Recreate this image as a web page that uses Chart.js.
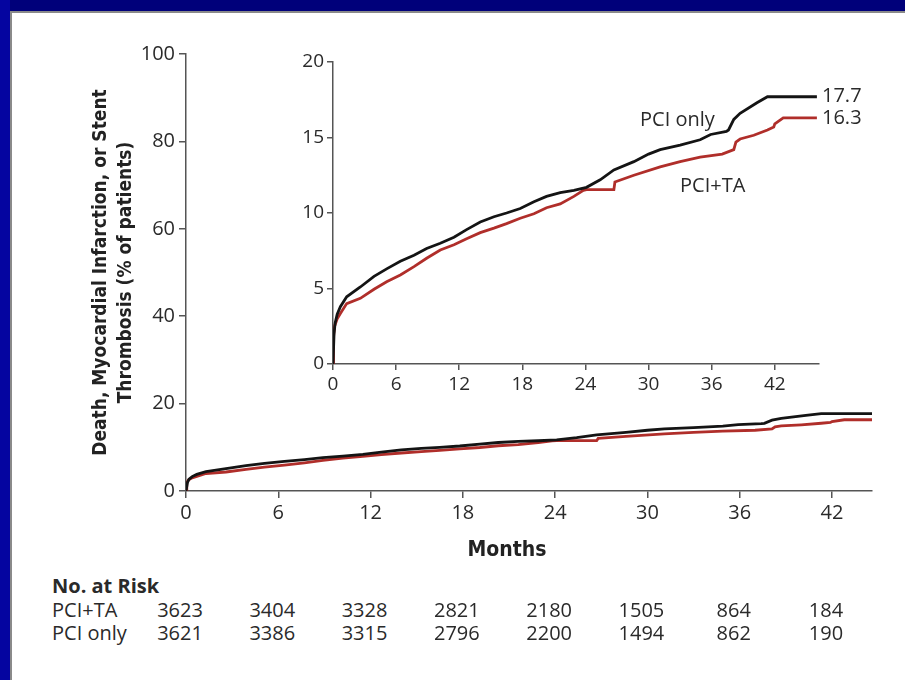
<!DOCTYPE html>
<html lang="en">
<head>
<meta charset="UTF-8">
<title>Death, MI or Stent Thrombosis</title>
<script src="https://cdn.jsdelivr.net/npm/chart.js"></script>
<style>
    body { margin: 0; width: 905px; height: 680px; background: #00007a; position: relative; overflow: hidden; font-family: 'Open Sans', sans-serif; color: #2a2a2a; }
    #leftStrip { position: absolute; left: 0; top: 0; width: 10px; height: 680px; background: #0505a0; }
    #panel { position: absolute; left: 10px; top: 11px; width: 895px; height: 669px; background: #fff; border-left: 2px solid #8a8a8a; border-top: 2px solid #8a8a8a; box-sizing: border-box; }
    #mainChart { position: absolute; left: 0; top: 0; }
    #insetChart { position: absolute; left: 280px; top: 40px; }
    .lbl { position: absolute; font-size: 20px; line-height: 24px; white-space: nowrap; }
    .num { position: absolute; font-size: 20px; line-height: 24px; white-space: nowrap; transform: translateX(-50%); }
    #xTitle { position: absolute; left: 507px; top: 536px; transform: translateX(-50%); font-family: 'Liberation Sans Narrow', 'DejaVu Sans Condensed', Roboto, sans-serif; font-weight: bold; font-size: 21px; line-height: 26px; color: #222; }
</style>
</head>
<body>
    <div id="leftStrip"></div>
    <div id="panel"></div>
    <canvas id="mainChart" width="905" height="565"></canvas>
    <canvas id="insetChart" width="600" height="354"></canvas>

    <div id="xTitle">Months</div>

    <!-- curve labels in the inset -->
    <div class="lbl" style="left:640px; top:107px;">PCI only</div>
    <div class="lbl" style="left:680px; top:173px;">PCI+TA</div>

    <!-- number at risk table -->
    <div class="lbl" style="left:52px; top:574px; font-weight:bold;">No. at Risk</div>
    <div class="lbl" style="left:52px; top:598px;">PCI+TA</div>
    <div class="lbl" style="left:52px; top:621px;">PCI only</div>
    <div id="riskCells"></div>

<script>
    // Kaplan-Meier curves (months, cumulative %)
    const pciOnlyMonths = [0, 0.1, 0.2, 0.4, 0.7, 1.3, 2.6, 3.9, 5.1, 6.4, 7.7, 8.9, 10.2, 11.5, 12.7, 14.0, 15.3, 16.5, 17.8, 19.1, 20.3, 21.6, 22.9, 24.1, 25.4, 26.7, 28.6, 30.0, 31.1, 33.0, 34.9, 35.9, 37.4, 37.6, 38.1, 38.7, 40.3, 41.3, 46];
    const pciOnlyPct    = [0, 2.0, 2.7, 3.3, 3.8, 4.45, 5.1, 5.8, 6.3, 6.8, 7.2, 7.65, 8.0, 8.4, 8.9, 9.4, 9.75, 10.0, 10.3, 10.75, 11.1, 11.35, 11.5, 11.7, 12.2, 12.85, 13.4, 13.9, 14.2, 14.5, 14.85, 15.2, 15.4, 15.5, 16.2, 16.6, 17.3, 17.7, 17.7];

    const pciTaMonths = [0, 0.05, 0.15, 0.4, 0.7, 1.3, 2.6, 3.9, 5.1, 6.4, 7.7, 8.9, 10.2, 11.5, 12.7, 14.0, 15.3, 16.5, 17.8, 19.1, 20.3, 21.6, 22.9, 23.8, 24.1, 26.7, 26.8, 28.6, 31.1, 33.0, 34.9, 37.0, 38.1, 38.3, 38.7, 40.0, 41.3, 41.9, 42.0, 42.8, 46];
    const pciTaPct    = [0, 1.8, 2.5, 3.0, 3.35, 4.0, 4.35, 4.95, 5.45, 5.9, 6.45, 7.0, 7.55, 7.9, 8.3, 8.7, 9.0, 9.3, 9.65, 9.95, 10.35, 10.6, 11.1, 11.5, 11.55, 11.55, 12.05, 12.5, 13.05, 13.4, 13.7, 13.9, 14.2, 14.7, 14.9, 15.15, 15.5, 15.7, 15.9, 16.3, 16.3];

    // number at risk
    const riskMonths  = [0, 6, 12, 18, 24, 30, 36, 42];
    const riskPciTa   = [3623, 3404, 3328, 2821, 2180, 1505, 864, 184];
    const riskPciOnly = [3621, 3386, 3315, 2796, 2200, 1494, 862, 190];

    const FONT = "'Open Sans', 'DejaVu Sans', sans-serif";
    const FONT_COND = "'Liberation Sans Narrow', 'DejaVu Sans Condensed', Roboto, sans-serif";
    const AXIS = '#555';
    const BLACK = '#141414';
    const RED = '#b02e2a';

    function toPoints(xs, ys) {
        return xs.map((x, i) => ({ x: x, y: ys[i] }));
    }

    function makeDatasets() {
        return [
            { label: 'PCI only', data: toPoints(pciOnlyMonths, pciOnlyPct), borderColor: BLACK, borderWidth: 2.8, pointRadius: 0, tension: 0 },
            { label: 'PCI+TA', data: toPoints(pciTaMonths, pciTaPct), borderColor: RED, borderWidth: 2.8, pointRadius: 0, tension: 0 }
        ];
    }

    function axisStyle(fontSize) {
        return {
            border: { color: AXIS, width: 1.5 },
            grid: { drawOnChartArea: false, tickLength: 7, color: AXIS, lineWidth: 1.5 },
            ticks: { color: '#2a2a2a', font: { size: fontSize, family: FONT }, maxRotation: 0 }
        };
    }

    Chart.defaults.font.family = FONT;

    // Main chart (0-100 %)
    const mainX = axisStyle(20);
    const mainY = axisStyle(20);
    const mainChart = new Chart(document.getElementById('mainChart'), {
        type: 'line',
        data: { datasets: makeDatasets() },
        options: {
            responsive: false,
            animation: false,
            layout: { padding: { left: 0, top: 54, right: 33, bottom: 4 } },
            plugins: { legend: { display: false }, tooltip: { enabled: false } },
            scales: {
                x: Object.assign(mainX, {
                    type: 'linear', min: 0, max: 44.6,
                    ticks: Object.assign(mainX.ticks, { stepSize: 6, includeBounds: false, padding: 3 }),
                    afterFit: s => { s.height = 70; }
                }),
                y: Object.assign(mainY, {
                    min: 0, max: 100,
                    ticks: Object.assign(mainY.ticks, { stepSize: 20, padding: 4 }),
                    title: {
                        display: true,
                        text: ['Death, Myocardial Infarction, or Stent', 'Thrombosis (% of patients)'],
                        color: '#222',
                        padding: { top: 89 },
                        font: { size: 19, weight: 'bold', family: FONT_COND, lineHeight: 1.3 }
                    },
                    afterFit: s => { s.width = 186; }
                })
            }
        }
    });

    // end-of-curve values in the inset
    const endLabels = {
        id: 'endLabels',
        afterDatasetsDraw(chart) {
            const { ctx, chartArea, scales } = chart;
            ctx.save();
            ctx.font = '20px ' + FONT;
            ctx.fillStyle = '#2a2a2a';
            ctx.textBaseline = 'middle';
            chart.data.datasets.forEach(ds => {
                const last = ds.data[ds.data.length - 1];
                ctx.fillText(last.y.toFixed(1), chartArea.right + 3, scales.y.getPixelForValue(last.y));
            });
            ctx.restore();
        }
    };

    // Inset (0-20 %)
    const inX = axisStyle(19);
    const inY = axisStyle(19);
    new Chart(document.getElementById('insetChart'), {
        type: 'line',
        data: { datasets: makeDatasets() },
        plugins: [endLabels],
        options: {
            responsive: false,
            animation: false,
            layout: { padding: { left: 0, top: 22, right: 61, bottom: 0 } },
            plugins: { legend: { display: false }, tooltip: { enabled: false } },
            scales: {
                x: Object.assign(inX, {
                    type: 'linear', min: 0, max: 46.2,
                    grid: Object.assign(inX.grid, { tickLength: 6 }),
                    ticks: Object.assign(inX.ticks, { stepSize: 6, includeBounds: false, padding: 3 }),
                    afterFit: s => { s.height = 30; }
                }),
                y: Object.assign(inY, {
                    min: 0, max: 20,
                    grid: Object.assign(inY.grid, { tickLength: 6 }),
                    ticks: Object.assign(inY.ticks, { stepSize: 5, padding: 3 }),
                    afterFit: s => { s.width = 53; }
                })
            }
        }
    });

    // number-at-risk cells lined up under the main x axis
    const cells = document.getElementById('riskCells');
    riskMonths.forEach((m, i) => {
        const cx = mainChart.scales.x.getPixelForValue(m) - 6;
        [[riskPciTa[i], 598], [riskPciOnly[i], 621]].forEach(([v, top]) => {
            const d = document.createElement('div');
            d.className = 'num';
            d.style.left = cx + 'px';
            d.style.top = top + 'px';
            d.textContent = v;
            cells.appendChild(d);
        });
    });
</script>
</body>
</html>
